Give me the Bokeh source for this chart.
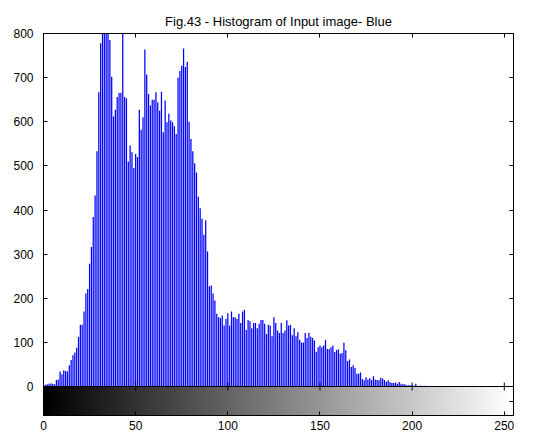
import numpy as np
from bokeh.plotting import figure
from bokeh.models import FixedTicker, LinearAxis, Span, Range1d
from bokeh.embed import file_html
from bokeh.resources import INLINE

title_text = "Fig.43 - Histogram of Input image- Blue"

# gray levels 0..255
levels = list(range(256))

# pixel counts per gray level
counts_0_49 = [2, 4, 5, 6, 7, 6, 5, 15, 16, 34,
               28, 37, 35, 34, 48, 60, 71, 77, 88, 113,
               140, 140, 170, 211, 221, 278, 316, 384, 433, 533,
               667, 778, 820, 850, 840, 810, 785, 702, 612, 627,
               656, 665, 666, 800, 656, 653, 510, 546, 531, 495]
counts_50_99 = [527, 520, 627, 582, 610, 764, 707, 663, 637, 650,
                650, 667, 644, 625, 668, 576, 648, 599, 618, 603,
                599, 590, 572, 700, 715, 727, 766, 724, 736, 600,
                561, 533, 506, 485, 430, 404, 380, 344, 377, 306,
                227, 229, 211, 195, 165, 157, 155, 161, 138, 153]
counts_100_149 = [166, 138, 170, 157, 157, 153, 165, 144, 170, 174,
                  128, 151, 148, 132, 144, 144, 132, 142, 151, 151,
                  142, 119, 140, 138, 114, 157, 144, 127, 121, 144,
                  121, 127, 150, 138, 140, 116, 132, 114, 123, 106,
                  100, 100, 121, 110, 122, 113, 110, 104, 79, 89]
counts_150_199 = [93, 89, 93, 106, 85, 85, 89, 93, 78, 83,
                  84, 74, 76, 99, 82, 57, 61, 44, 48, 42,
                  29, 29, 32, 17, 14, 21, 16, 19, 15, 23,
                  16, 15, 14, 20, 18, 15, 11, 14, 10, 8,
                  8, 9, 6, 10, 6, 5, 5, 3, 3, 3]
counts_200_255 = [3, 2, 6, 1, 2, 2, 1, 2] + [0] * 48
counts = counts_0_49 + counts_50_99 + counts_100_149 + counts_150_199 + counts_200_255

x_ticks = [0, 50, 100, 150, 200, 250]
y_ticks = [0, 100, 200, 300, 400, 500, 600, 700, 800]

Y_MAX = 800
CB_H = 65.7          # height of the gray-level bar below the histogram (data units)
TICK_H = 9           # length of the ticks on the zero line (data units)

FONT = "Liberation Sans"

p = figure(width=542, height=439,
           x_range=Range1d(0, 255), y_range=Range1d(-CB_H, Y_MAX),
           output_backend="svg", toolbar_location=None,
           min_border_left=43, min_border_right=29,
           min_border_top=33, min_border_bottom=24)

p.background_fill_color = "white"
p.border_fill_color = "white"
p.outline_line_color = "black"
p.grid.visible = False

p.title.text = title_text
p.title.align = "center"
p.title.text_font = FONT
p.title.text_font_size = "13px"
p.title.text_font_style = "normal"
p.title.text_color = "black"
p.title.standoff = 9

# gray level bar
ramp = np.empty((1, 256), dtype=np.uint32)
view = ramp.view(dtype=np.uint8).reshape((1, 256, 4))
view[0, :, 0] = np.array(levels, dtype=np.uint8)
view[0, :, 1] = np.array(levels, dtype=np.uint8)
view[0, :, 2] = np.array(levels, dtype=np.uint8)
view[0, :, 3] = 255
p.image_rgba(image=[ramp], x=0, y=-CB_H, dw=255, dh=CB_H)

# histogram stems
p.segment(x0=levels, y0=[0] * 256, x1=levels, y1=counts,
          line_color="#0000ff", line_width=1.25)

# zero line and the ticks on it
p.add_layout(Span(location=0, dimension="width", line_color="black", line_width=1))
p.segment(x0=x_ticks, y0=[-TICK_H] * len(x_ticks), x1=x_ticks, y1=[TICK_H] * len(x_ticks),
          line_color="black", line_width=1)

def style_axis(ax, show_labels):
    ax.major_tick_in = 4
    ax.major_tick_out = 0
    ax.minor_tick_line_color = None
    ax.axis_line_color = "black"
    ax.major_tick_line_color = "black"
    if show_labels:
        ax.major_label_text_font = FONT
        ax.major_label_text_font_size = "12px"
        ax.major_label_text_color = "black"
    else:
        ax.major_label_text_font_size = "0px"
        ax.major_label_text_color = None
        ax.major_label_standoff = 0

xa = p.xaxis[0]
xa.ticker = FixedTicker(ticks=x_ticks)
style_axis(xa, True)
xa.major_label_standoff = 5

ya = p.yaxis[0]
ya.ticker = FixedTicker(ticks=y_ticks)
style_axis(ya, True)
ya.major_label_standoff = 10

top = LinearAxis(ticker=FixedTicker(ticks=x_ticks))
style_axis(top, False)
p.add_layout(top, "above")

right = LinearAxis(ticker=FixedTicker(ticks=[-CB_H / 2] + y_ticks))
style_axis(right, False)
p.add_layout(right, "right")

open("out.html", "w").write(file_html(p, INLINE))
